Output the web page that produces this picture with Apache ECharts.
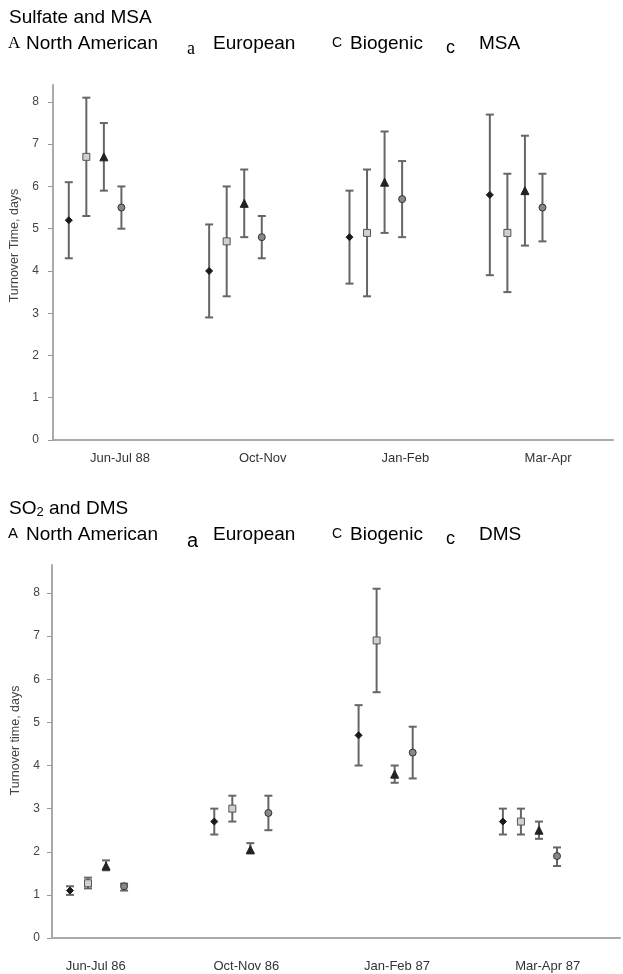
<!DOCTYPE html>
<html><head><meta charset="utf-8">
<script src="https://cdn.jsdelivr.net/npm/echarts@6/dist/echarts.min.js"></script>
<style>html,body{margin:0;padding:0;background:#fff}#c{width:623px;height:974px}</style>
</head><body><div id="c"></div>
<script>
// ---------- data ----------
const topCategories = ['Jun-Jul 88', 'Oct-Nov', 'Jan-Feb', 'Mar-Apr'];
const bottomCategories = ['Jun-Jul 86', 'Oct-Nov 86', 'Jan-Feb 87', 'Mar-Apr 87'];
const yTicks = [0, 1, 2, 3, 4, 5, 6, 7, 8];
const topSeriesNames = ['North American', 'European', 'Biogenic', 'MSA'];
const bottomSeriesNames = ['North American', 'European', 'Biogenic', 'DMS'];
// [mean, low, high] per season
const sulfNorthAmerican = [[5.2, 4.3, 6.1], [4.0, 2.9, 5.1], [4.8, 3.7, 5.9], [5.8, 3.9, 7.7]];
const sulfEuropean      = [[6.7, 5.3, 8.1], [4.7, 3.4, 6.0], [4.9, 3.4, 6.4], [4.9, 3.5, 6.3]];
const sulfBiogenic      = [[6.7, 5.9, 7.5], [5.6, 4.8, 6.4], [6.1, 4.9, 7.3], [5.9, 4.6, 7.2]];
const sulfMSA           = [[5.5, 5.0, 6.0], [4.8, 4.3, 5.3], [5.7, 4.8, 6.6], [5.5, 4.7, 6.3]];
const so2NorthAmerican  = [[1.1, 1.0, 1.2], [2.7, 2.4, 3.0], [4.7, 4.0, 5.4], [2.7, 2.4, 3.0]];
const so2European       = [[1.27, 1.15, 1.4], [3.0, 2.7, 3.3], [6.9, 5.7, 8.1], [2.7, 2.4, 3.0]];
const so2Biogenic       = [[1.67, 1.57, 1.8], [2.05, 1.96, 2.2], [3.8, 3.6, 4.0], [2.5, 2.3, 2.7]];
const so2DMS            = [[1.2, 1.1, 1.26], [2.9, 2.5, 3.3], [4.3, 3.7, 4.9], [1.9, 1.67, 2.1]];

// ---------- styling ----------
const offsets = [-0.1875, -0.0625, 0.0625, 0.1875];
const markers = [
  { symbol: 'diamond', size: 7, color: '#1a1a1a', border: '#1a1a1a' },
  { symbol: 'rect', size: 7, color: '#d0d0d0', border: '#555' },
  { symbol: 'triangle', size: 8, color: '#222', border: '#222' },
  { symbol: 'circle', size: 7, color: '#888', border: '#333' }
];
const barColor = '#666';

function errRender(params, api) {
  const x = api.value(0), lo = api.value(1), hi = api.value(2);
  const a = api.coord([x, lo]), b = api.coord([x, hi]);
  const cap = 4;
  const st = { stroke: barColor, lineWidth: 2 };
  return { type: 'group', children: [
    { type: 'line', shape: { x1: a[0], y1: a[1], x2: b[0], y2: b[1] }, style: st },
    { type: 'line', shape: { x1: a[0] - cap, y1: a[1], x2: a[0] + cap, y2: a[1] }, style: st },
    { type: 'line', shape: { x1: b[0] - cap, y1: b[1], x2: b[0] + cap, y2: b[1] }, style: st }
  ]};
}

function buildSeries(groups, names, xi, yi) {
  const out = [];
  groups.forEach((g, s) => {
    out.push({
      type: 'custom', name: names[s] + ' range', xAxisIndex: xi, yAxisIndex: yi,
      renderItem: errRender, encode: { x: 0, y: [1, 2] }, z: 2,
      data: g.map((d, i) => [i + offsets[s], d[1], d[2]])
    });
  });
  groups.forEach((g, s) => {
    const m = markers[s];
    out.push({
      type: 'scatter', name: names[s], xAxisIndex: xi, yAxisIndex: yi, z: 3,
      symbol: m.symbol, symbolSize: m.size,
      itemStyle: { color: m.color, borderColor: m.border, borderWidth: 1, opacity: 1 },
      data: g.map((d, i) => [i + offsets[s], d[0]])
    });
  });
  return out;
}

const axisLineStyle = { show: true, onZero: false, lineStyle: { color: '#aaa', width: 2 } };
function dataY(gi, max, name, shift, margin) {
  return {
    type: 'value', gridIndex: gi, min: 0, max: max,
    axisLine: axisLineStyle,
    axisTick: { show: true, length: 5, lineStyle: { color: '#999' }, customValues: yTicks },
    axisLabel: { customValues: yTicks, color: '#444', fontSize: 12, margin: margin, fontFamily: 'Liberation Sans, Arial' },
    splitLine: { show: false },
    name: name, nameLocation: 'middle', nameGap: 28,
    nameTextStyle: { color: '#444', fontSize: 12.5, fontFamily: 'Liberation Sans, Arial', padding: [0, 0, 0, shift] }
  };
}
function dataX(gi, min, max) {
  return {
    type: 'value', gridIndex: gi, min: min, max: max,
    axisLine: axisLineStyle, axisTick: { show: false }, axisLabel: { show: false }, splitLine: { show: false }
  };
}
function labelX(gi, cats, margin) {
  return {
    type: 'category', gridIndex: gi, data: cats, boundaryGap: true,
    axisLine: { show: false }, axisTick: { show: false }, splitLine: { show: false },
    axisLabel: { color: '#333', fontSize: 13, margin: margin, fontFamily: 'Liberation Sans, Arial' }
  };
}

const legendFont = 'Liberation Sans, Arial';
function legendRow(y, last, serifA) {
  const t = (x, yy, text, size, fam) => ({ type: 'text', left: x, top: yy,
    style: { text: text, fontSize: size, fontFamily: fam || legendFont, fill: '#000' } });
  return [
    t(8, y + 1, 'A', serifA ? 17 : 15, serifA ? 'Liberation Serif' : legendFont),
    t(26, y, 'North American', 19),
    t(187, y + 6, 'a', serifA ? 18 : 20, serifA ? 'Liberation Serif' : legendFont),
    t(213, y, 'European', 19),
    t(332, y + 2, 'C', 14),
    t(350, y, 'Biogenic', 19),
    t(446, y + 5, 'c', 18),
    t(479, y, last, 19)
  ];
}

const option = {
  backgroundColor: '#fff',
  animation: false,
  grid: [
    { left: 53, top: 85, width: 560, height: 355 },
    { left: 48.7, top: 85, width: 570.7, height: 355 },
    { left: 52, top: 565, width: 568, height: 373 },
    { left: 20.3, top: 565, width: 613, height: 373 }
  ],
  xAxis: [
    dataX(0, -0.3, 3.69),
    labelX(1, topCategories, 12),
    dataX(2, -0.312, 3.624),
    labelX(3, bottomCategories, 22)
  ],
  yAxis: [
    dataY(0, 8.4, 'Turnover Time, days', 34, 14),
    { type: 'value', gridIndex: 1, show: false, min: 0, max: 1 },
    dataY(2, 8.65, 'Turnover time, days', 22, 12),
    { type: 'value', gridIndex: 3, show: false, min: 0, max: 1 }
  ],
  graphic: [
    { type: 'text', left: 9, top: 8, style: { text: 'Sulfate and MSA', fontSize: 19, fontFamily: legendFont, fill: '#000' } },
    ...legendRow(34, 'MSA', true),
    { type: 'text', left: 9, top: 499, style: { text: 'SO{sub|2} and DMS', fontSize: 19, fontFamily: legendFont, fill: '#000',
      rich: { sub: { fontSize: 13, fontFamily: legendFont, verticalAlign: 'bottom', padding: [8, 0, 0, 0] } } } },
    ...legendRow(525, 'DMS', false)
  ],
  series: [
    ...buildSeries([sulfNorthAmerican, sulfEuropean, sulfBiogenic, sulfMSA], topSeriesNames, 0, 0),
    ...buildSeries([so2NorthAmerican, so2European, so2Biogenic, so2DMS], bottomSeriesNames, 2, 2)
  ]
};
const chart = echarts.init(document.getElementById('c'));
chart.setOption(option);
</script></body></html>
